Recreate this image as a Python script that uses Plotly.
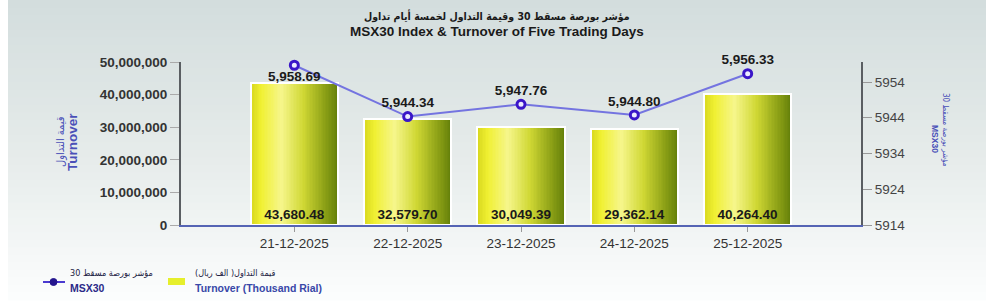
import plotly.graph_objects as go

# ---------------- data ----------------
dates = ["21-12-2025", "22-12-2025", "23-12-2025", "24-12-2025", "25-12-2025"]
turnover = [43680480, 32579700, 30049390, 29362140, 40264400]
msx30 = [5958.69, 5944.34, 5947.76, 5944.80, 5956.33]
turnover_ticks = [0, 10000000, 20000000, 30000000, 40000000, 50000000]
msx_ticks = [5914, 5924, 5934, 5944, 5954]

title_ar = "مؤشر بورصة مسقط 30 وقيمة التداول لخمسة أيام تداول"
title_en = "MSX30 Index & Turnover of Five Trading Days"
left_title_ar = "قيمة التداول"
left_title_en = "Turnover"
right_title_ar = "مؤشر بورصة مسقط 30"
right_title_en = "MSX30"
legend_msx_ar = "مؤشر بورصة مسقط 30"
legend_msx_en = "MSX30"
legend_to_ar = "قيمة التداول( الف ريال)"
legend_to_en = "Turnover (Thousand Rial)"

# ---------------- layout geometry ----------------
W, H = 1000, 303
ML, MR, MT, MB = 181, 139, 62, 78
PW, PH = W - ML - MR, H - MT - MB


def px(x):
    return (x - ML) / PW


def py(y):
    return (H - MB - y) / PH


FONT = "Liberation Sans, Arial, DejaVu Sans, sans-serif"
AFONT = "DejaVu Sans Condensed, DejaVu Sans, sans-serif"
BLUE_T = "#4a50b8"

fig = go.Figure()

# gradient bar slices (each slice runs to the right edge so no seams appear)
stops = [(0.0, (215, 215, 30)), (0.12, (240, 240, 50)), (0.35, (246, 246, 140)),
         (0.6, (208, 216, 52)), (0.85, (140, 160, 22)), (1.0, (100, 128, 10))]


def grad(t):
    for (t0, c0), (t1, c1) in zip(stops[:-1], stops[1:]):
        if t0 <= t <= t1:
            f = (t - t0) / (t1 - t0)
            return "rgb(%d,%d,%d)" % tuple(round(a + (b - a) * f) for a, b in zip(c0, c1))
    return "rgb(%d,%d,%d)" % stops[-1][1]


BW = 0.77
N = 60
for i in range(N):
    fig.add_trace(go.Bar(
        x=dates, y=turnover, width=BW - i * BW / N, offset=-BW / 2 + i * BW / N,
        marker=dict(color=grad((i + 0.5) / N), line=dict(width=0)),
        showlegend=False, hoverinfo="skip", yaxis="y"))

# outline + bottom labels
fig.add_trace(go.Bar(
    x=dates, y=turnover, width=BW, offset=-BW / 2,
    marker=dict(color="rgba(0,0,0,0)", line=dict(color="white", width=2)),
    text=[f"{v / 1000:,.2f}" for v in turnover], textposition="inside",
    insidetextanchor="start", textangle=0, constraintext="none",
    insidetextfont=dict(family=FONT, size=13.5, color="#1a1a1a", weight="bold"),
    showlegend=False, hoverinfo="skip", yaxis="y"))

# index line
fig.add_trace(go.Scatter(
    x=dates, y=msx30, yaxis="y2", mode="lines+markers+text",
    line=dict(color="#7474e0", width=2),
    marker=dict(symbol="circle", size=8, color="#ecebff", line=dict(color="#3a16c8", width=3)),
    text=[f"{v:,.2f}" for v in msx30],
    textposition=["bottom center", "top center", "top center", "top center", "top center"],
    textfont=dict(family=FONT, size=13.5, color="#1a1a1a", weight="bold"),
    showlegend=False, cliponaxis=False))

# background gradient strips
shapes = []
NS = 40
top_c, mid_c, bot_c = (211, 221, 221), (229, 235, 234), (252, 253, 253)
y_top, y_bot = 0, 300
for k in range(NS):
    t = (k + 0.5) / NS
    if t < 0.5:
        f = t / 0.5
        c = tuple(round(a + (b - a) * f) for a, b in zip(top_c, mid_c))
    else:
        f = (t - 0.5) / 0.5
        c = tuple(round(a + (b - a) * f) for a, b in zip(mid_c, bot_c))
    y0 = y_top + (y_bot - y_top) * k / NS
    y1 = y_top + (y_bot - y_top) * (k + 1) / NS + 0.6
    shapes.append(dict(type="rect", xref="paper", yref="paper", x0=px(8), x1=px(986),
                       y0=py(y1), y1=py(y0), fillcolor="rgb(%d,%d,%d)" % c,
                       line=dict(width=0), layer="below"))

# manual legend symbols
shapes.append(dict(type="line", xref="paper", yref="paper", x0=px(43), x1=px(65),
                   y0=py(282), y1=py(282), line=dict(color="#4a3ad0", width=2)))
shapes.append(dict(type="circle", xref="paper", yref="paper", x0=px(50), x1=px(57),
                   y0=py(285.5), y1=py(278.5), fillcolor="#24168e", line=dict(color="#24168e", width=1)))
shapes.append(dict(type="rect", xref="paper", yref="paper", x0=px(168), x1=px(185),
                   y0=py(285), y1=py(278), fillcolor="#e6ef2c", line=dict(width=0)))


def ann(text, x, y, size, color, bold=False, family=FONT, xanchor="center", angle=0):
    return dict(text=("<b>%s</b>" % text) if bold else text, xref="paper", yref="paper",
                x=px(x), y=py(y), xanchor=xanchor, yanchor="middle", textangle=angle,
                showarrow=False, font=dict(family=family, size=size, color=color))


annotations = [
    ann(title_ar, 497, 16, 10.5, "#1a1a1a", bold=True, family=AFONT),
    ann(title_en, 497, 32, 13.5, "#1a1a1a", bold=True),
    ann(left_title_ar, 60, 142, 11, BLUE_T, family=AFONT, angle=-90),
    ann(left_title_en, 72, 142, 13.5, BLUE_T, bold=True, angle=-90),
    ann(right_title_ar, 946, 130, 8, BLUE_T, family=AFONT, angle=90),
    ann(right_title_en, 935, 139, 8.5, BLUE_T, bold=True, angle=90),
    ann(legend_msx_ar, 68, 273, 9, "#222244", family=AFONT, xanchor="left"),
    ann(legend_msx_en, 68, 288, 10.5, "#2a2a88", bold=True, xanchor="left"),
    ann(legend_to_ar, 193, 273, 9, "#222244", family=AFONT, xanchor="left"),
    ann(legend_to_en, 193, 288, 10.5, "#3848a8", bold=True, xanchor="left"),
]

fig.update_layout(
    width=W, height=H, margin=dict(l=ML, r=MR, t=MT, b=MB, autoexpand=False),
    paper_bgcolor="white", plot_bgcolor="rgba(0,0,0,0)",
    barmode="overlay", bargap=0, showlegend=False,
    font=dict(family=FONT, color="#333"),
    xaxis=dict(type="category", range=[-1, 5], showgrid=False, showline=True,
               linecolor="#5564b4", linewidth=2, ticks="outside", ticklen=5, tickcolor="#999",
               tickfont=dict(family=FONT, size=13.5, color="#333"), zeroline=False),
    yaxis=dict(range=[0, 50000000], tickvals=turnover_ticks, tickformat=",",
               showgrid=False, showline=True, linecolor="#5a5e62", linewidth=2,
               ticks="outside", ticklen=9, tickcolor="#aaa", zeroline=False,
               tickfont=dict(family=FONT, size=13.5, color="#333", weight="bold")),
    yaxis2=dict(overlaying="y", side="right", range=[5914, 5959.6], tickvals=msx_ticks,
                showgrid=False, showline=True, linecolor="#5a5e62", linewidth=2,
                ticks="outside", ticklen=9, tickcolor="#999", zeroline=False,
                tickfont=dict(family=FONT, size=13.5, color="#444")),
    shapes=shapes, annotations=annotations,
)

fig.write_html("out.html")
